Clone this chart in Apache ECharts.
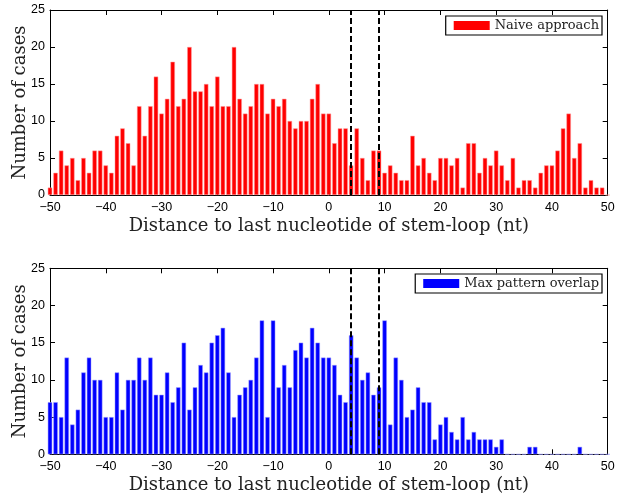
<!DOCTYPE html>
<html>
<head>
<meta charset="utf-8">
<script src="https://cdn.jsdelivr.net/npm/echarts@6/dist/echarts.min.js"></script>
<style>
html,body{margin:0;padding:0;background:#fff;}
#chart{width:625px;height:493px;}
</style>
</head>
<body>
<div id="chart"></div>
<script>
// Bin positions (nt)
var positions = [-50,-49,-48,-47,-46,-45,-44,-43,-42,-41,
  -40,-39,-38,-37,-36,-35,-34,-33,-32,-31,
  -30,-29,-28,-27,-26,-25,-24,-23,-22,-21,
  -20,-19,-18,-17,-16,-15,-14,-13,-12,-11,
  -10,-9,-8,-7,-6,-5,-4,-3,-2,-1,
  0,1,2,3,4,5,6,7,8,9,
  10,11,12,13,14,15,16,17,18,19,
  20,21,22,23,24,25,26,27,28,29,
  30,31,32,33,34,35,36,37,38,39,
  40,41,42,43,44,45,46,47,48,49,50];

// Naive approach counts
var naiveCounts = [1,3,6,4,5,2,5,3,6,6,
  4,3,8,9,7,4,12,8,12,16,
  11,13,18,12,13,20,14,14,15,12,
  16,12,12,20,13,11,12,15,15,11,
  13,12,13,10,9,10,10,13,15,11,
  11,7,9,9,4,9,5,2,6,6,
  3,4,3,2,2,8,4,5,3,2,
  5,5,4,5,1,7,7,3,5,4,
  6,4,2,5,1,2,2,1,3,4,
  4,6,9,11,5,7,1,2,1,1,0];

// Max pattern overlap counts
var overlapCounts = [7,7,5,13,4,6,11,13,10,10,
  5,5,11,6,10,10,13,10,13,8,
  8,11,7,9,15,6,9,12,11,15,
  16,17,11,5,8,9,10,13,18,5,
  18,9,12,9,14,15,13,17,15,13,
  13,12,8,7,16,13,10,11,8,9,
  18,4,13,10,5,6,9,7,7,2,
  4,5,3,2,5,2,3,2,2,2,
  1,2,0,0,0,0,1,1,0,0,
  0,0,0,0,0,1,0,0,0,0,0];

// Boundary markers (dashed lines)
var boundaries = [4, 9];

var seriesNames = ['Naive approach', 'Max pattern overlap'];
var xLabel = 'Distance to last nucleotide of stem-loop (nt)';
var yLabel = 'Number of cases';

function pairs(vals){ return positions.map(function(p,i){ return [p, vals[i]]; }); }
function minusFmt(v){ return String(v).replace('-', '\u2212'); }

var tickFont = {fontFamily:'Liberation Sans, Arial, sans-serif', fontSize:12.5, color:'#000'};
var nameFont = {fontFamily:'DejaVu Serif, serif', fontSize:18, color:'#222'};
var axisLineStyle = {show:true, onZero:false, lineStyle:{color:'#000', width:1}};
var tickStyle = {show:true, inside:true, length:5, lineStyle:{color:'#000'}};

function xMain(gi){
  return {type:'value', gridIndex:gi, position:'bottom', min:-50, max:50, interval:10,
    axisLine:axisLineStyle, axisTick:tickStyle,
    axisLabel:Object.assign({margin:6, formatter:minusFmt}, tickFont),
    splitLine:{show:false}, name:xLabel, nameLocation:'middle', nameGap:22,
    nameMoveOverlap:false, nameTextStyle:nameFont};
}
function xTop(gi){
  return {type:'value', gridIndex:gi, position:'top', min:-50, max:50, interval:10,
    axisLine:axisLineStyle, axisTick:tickStyle,
    axisLabel:{show:false}, splitLine:{show:false}};
}
function yMain(gi){
  return {type:'value', gridIndex:gi, position:'left', min:0, max:25, interval:5,
    axisLine:axisLineStyle, axisTick:tickStyle,
    axisLabel:Object.assign({margin:5}, tickFont),
    splitLine:{show:false}, name:yLabel, nameLocation:'middle', nameGap:21, nameRotate:90,
    nameMoveOverlap:false, nameTextStyle:nameFont};
}
function yRight(gi){
  return {type:'value', gridIndex:gi, position:'right', min:0, max:25, interval:5,
    axisLine:axisLineStyle, axisTick:tickStyle,
    axisLabel:{show:false}, splitLine:{show:false}};
}
function markLines(){
  return {silent:true, symbol:['none','none'], label:{show:false},
    lineStyle:{color:'#000', type:[6,3], width:2},
    emphasis:{disabled:true},
    data:boundaries.map(function(b){ return {xAxis:b}; })};
}
function legendFor(name, top){
  return {data:[name], right:23, top:top, orient:'horizontal', icon:'rect',
    itemWidth:36, itemHeight:9, padding:[3,3,3,8], borderColor:'#000', borderWidth:1.2,
    backgroundColor:'#fff', selectedMode:false, itemStyle:{borderWidth:0},
    textStyle:{fontFamily:'DejaVu Serif, serif', fontSize:13, color:'#222'}};
}

var chart = echarts.init(document.getElementById('chart'), null, {renderer:'canvas'});
chart.setOption({
  animation:false,
  backgroundColor:'#fff',
  grid:[
    {left:50, top:10, width:557.7, height:185, containLabel:false, outerBoundsMode:'none'},
    {left:50, top:268.3, width:557.7, height:186, containLabel:false, outerBoundsMode:'none'}
  ],
  xAxis:[xMain(0), xTop(0), xMain(1), xTop(1)],
  yAxis:[yMain(0), yRight(0), yMain(1), yRight(1)],
  legend:[legendFor(seriesNames[0], 16), legendFor(seriesNames[1], 274)],
  series:[
    {name:seriesNames[0], type:'bar', xAxisIndex:0, yAxisIndex:0, data:pairs(naiveCounts),
      barWidth:4.4, clip:true,
      itemStyle:{color:'#ff0000', borderColor:'#ff9a9a', borderWidth:0.5},
      emphasis:{disabled:true}, markLine:markLines()},
    {name:seriesNames[1], type:'bar', xAxisIndex:2, yAxisIndex:2, data:pairs(overlapCounts),
      barWidth:4.4, clip:true,
      itemStyle:{color:'#0000ff', borderColor:'#9a9aff', borderWidth:0.5},
      emphasis:{disabled:true}, markLine:markLines()}
  ]
});
</script>
</body>
</html>
